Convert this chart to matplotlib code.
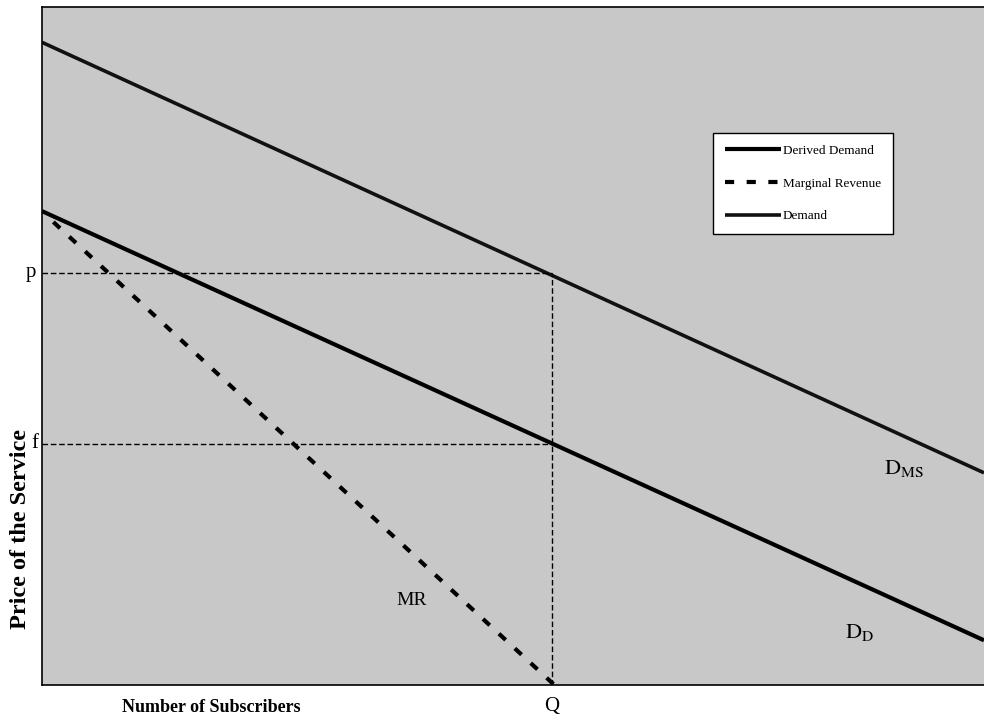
import matplotlib.pyplot as plt

plt.rcParams['font.family'] = ['Liberation Serif', 'DejaVu Serif']
plt.rcParams['mathtext.fontset'] = 'stix'

# data (axis units 0-100)
x_ends = [0, 100]
demand_ms = [94.8, 31.3]      # D_MS
derived_d = [69.9, 6.6]       # D_D
mr_x = [1.2, 54.4]
mr_y = [68.3, 0.0]
Q = 54.1
p = 60.8
f = 35.6

fig = plt.figure(figsize=(9.84, 7.22), dpi=100)
ax = fig.add_axes([0.0427, 0.0512, 0.9573, 0.939])
ax.set_facecolor('#c8c8c8')
ax.set_xlim(0, 100)
ax.set_ylim(0, 100)

ax.plot(x_ends, derived_d, color='black', lw=3, label='Derived Demand', solid_capstyle='butt')
ax.plot(mr_x, mr_y, color='black', lw=3, ls=(0, (2.2, 3.0)), label='Marginal Revenue')
ax.plot(x_ends, demand_ms, color='#111111', lw=2.6, label='Demand', solid_capstyle='butt')

# guide lines
ax.plot([0, Q], [p, p], color='black', lw=1, ls=(0, (4, 2)))
ax.plot([0, Q], [f, f], color='black', lw=1, ls=(0, (4, 2)))
ax.plot([Q, Q], [0, p], color='black', lw=1, ls=(0, (4, 2)))

ax.set_xticks([])
ax.set_yticks([])
ax.spines['right'].set_visible(False)
for s in ['left', 'bottom', 'top']:
    ax.spines[s].set_linewidth(1.2)

ax.text(-0.6, p, 'p', ha='right', va='center', fontsize=15)
ax.text(-0.4, f, 'f', ha='right', va='center', fontsize=15)
ax.text(Q, -1.8, 'Q', ha='center', va='top', fontsize=15)
ax.text(91.5, 32.0, r'$\mathrm{D_{MS}}$', fontsize=16, ha='center', va='center')
ax.text(86.8, 7.8, r'$\mathrm{D_{D}}$', fontsize=16, ha='center', va='center')
ax.text(39.2, 12.4, 'MR', fontsize=14, ha='center', va='center')

fig.text(122 / 984, 1 - 707 / 722, 'Number of Subscribers', fontsize=13, fontweight='bold',
         ha='left', va='center')
fig.text(21 / 984, 1 - 529 / 722, 'Price of the Service', fontsize=17.5, fontweight='bold',
         rotation=90, ha='center', va='center')

leg = ax.legend(loc='upper left', bbox_to_anchor=(0.705, 0.824), fontsize=9.5,
                frameon=True, fancybox=False, edgecolor='black', facecolor='white',
                framealpha=1, handlelength=4.3, handletextpad=0.1, labelspacing=1.55,
                borderpad=0.9)
leg.get_frame().set_linewidth(1)

fig.savefig('out.png', dpi=100)
